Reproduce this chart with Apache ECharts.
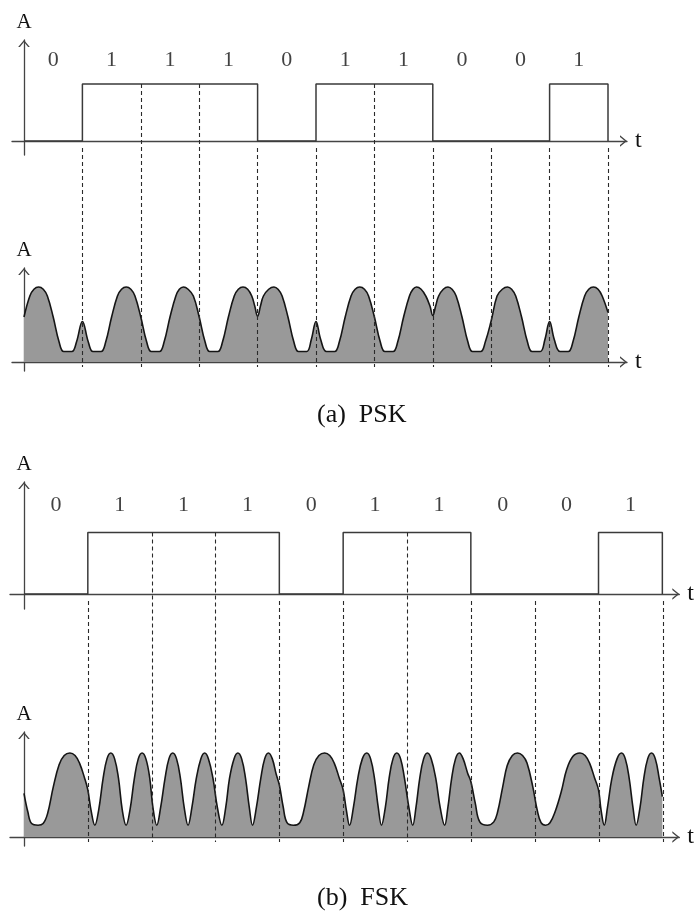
<!DOCTYPE html>
<html><head><meta charset="utf-8">
<script src="https://cdn.jsdelivr.net/npm/echarts@6/dist/echarts.min.js"></script>
<style>html,body{margin:0;padding:0;background:#fff}#c{width:695px;height:911px}</style>
</head><body><div id="c"></div>
<script>
// ---- data ----
const bits = [0,1,1,1,0,1,1,0,0,1];
const bitLabels = ['0','1','1','1','0','1','1','0','0','1'];
const captions = ['(a)  PSK', '(b)  FSK'];
const ampName = 'A';
const timeName = 't';
// PSK envelope readings [t in bit periods, amplitude]
const pskWave = [
[0,0.60],[0.1,0.88],[0.17,0.97],[0.25,1.0],[0.33,0.97],[0.4,0.88],[0.5,0.6],[0.6,0.27],[0.68,0.14],[0.82,0.14],[0.9,0.27],
[1.0,0.54],[1.1,0.27],[1.18,0.14],[1.32,0.14],[1.4,0.27],[1.5,0.6],[1.6,0.88],[1.67,0.97],[1.75,1.0],[1.83,0.97],[1.9,0.88],
[2.0,0.6],[2.1,0.27],[2.18,0.14],[2.32,0.14],[2.4,0.27],[2.5,0.6],[2.6,0.88],[2.66,0.97],[2.73,1.0],[2.81,0.97],[2.9,0.88],
[3.0,0.6],[3.1,0.27],[3.18,0.14],[3.32,0.14],[3.4,0.27],[3.5,0.6],[3.6,0.88],[3.67,0.97],[3.75,1.0],[3.83,0.97],[3.9,0.88],[3.95,0.75],
[4.0,0.61],[4.05,0.75],[4.1,0.88],[4.19,0.97],[4.28,1.0],[4.35,0.97],[4.42,0.88],[4.52,0.6],[4.62,0.27],[4.7,0.14],[4.84,0.14],[4.92,0.3],
[5.0,0.54],[5.08,0.3],[5.18,0.14],[5.32,0.14],[5.4,0.27],[5.5,0.6],[5.6,0.88],[5.67,0.97],[5.75,1.0],[5.83,0.97],[5.9,0.88],
[6.0,0.6],[6.1,0.27],[6.18,0.14],[6.32,0.14],[6.4,0.27],[6.5,0.6],[6.6,0.88],[6.66,0.97],[6.72,1.0],[6.8,0.97],[6.88,0.88],[6.95,0.75],
[7.0,0.62],[7.05,0.75],[7.1,0.88],[7.18,0.97],[7.26,1.0],[7.33,0.97],[7.4,0.88],[7.5,0.6],[7.6,0.27],[7.68,0.14],[7.82,0.14],[7.9,0.27],
[8.0,0.55],[8.1,0.88],[8.19,0.97],[8.28,1.0],[8.35,0.97],[8.42,0.88],[8.52,0.6],[8.62,0.27],[8.7,0.14],[8.84,0.14],[8.92,0.3],
[9.0,0.54],[9.08,0.3],[9.18,0.14],[9.32,0.14],[9.4,0.27],[9.5,0.6],[9.6,0.88],[9.67,0.97],[9.75,1.0],[9.83,0.97],[9.9,0.88],
[10.0,0.66]
];
// FSK envelope readings [t in bit periods, amplitude]
const fskWave = [
[0,0.52],[0.06,0.3],[0.12,0.16],[0.22,0.14],[0.3,0.16],[0.37,0.28],[0.46,0.6],[0.55,0.86],[0.63,0.97],[0.72,1.0],[0.8,0.97],[0.87,0.88],[0.95,0.7],
[1.0,0.56],[1.05,0.32],[1.11,0.14],[1.17,0.32],[1.24,0.7],[1.3,0.93],[1.36,1.0],[1.42,0.93],[1.48,0.7],[1.54,0.32],[1.6,0.14],[1.66,0.32],[1.73,0.7],[1.79,0.93],[1.85,1.0],[1.91,0.93],[1.97,0.7],
[2.02,0.35],[2.08,0.14],[2.14,0.35],[2.21,0.7],[2.27,0.93],[2.33,1.0],[2.39,0.93],[2.45,0.7],[2.51,0.35],[2.57,0.14],[2.63,0.35],[2.7,0.7],[2.77,0.93],[2.83,1.0],[2.89,0.93],[2.96,0.7],
[3.03,0.35],[3.1,0.14],[3.16,0.35],[3.22,0.7],[3.29,0.93],[3.35,1.0],[3.41,0.93],[3.47,0.7],[3.53,0.35],[3.58,0.14],[3.64,0.35],[3.71,0.7],[3.77,0.93],[3.83,1.0],[3.89,0.93],[3.95,0.75],
[4.0,0.62],[4.06,0.36],[4.12,0.17],[4.22,0.14],[4.32,0.17],[4.38,0.3],[4.46,0.6],[4.54,0.86],[4.62,0.97],[4.71,1.0],[4.79,0.97],[4.86,0.88],[4.94,0.7],
[5.0,0.56],[5.05,0.32],[5.1,0.14],[5.16,0.35],[5.23,0.7],[5.3,0.93],[5.37,1.0],[5.43,0.93],[5.49,0.7],[5.55,0.35],[5.6,0.14],[5.66,0.35],[5.72,0.7],[5.78,0.93],[5.84,1.0],[5.9,0.93],[5.96,0.7],
[6.03,0.35],[6.09,0.14],[6.14,0.35],[6.2,0.7],[6.26,0.93],[6.32,1.0],[6.38,0.93],[6.45,0.7],[6.52,0.35],[6.59,0.14],[6.64,0.35],[6.7,0.7],[6.76,0.93],[6.82,1.0],[6.88,0.93],[6.95,0.76],
[7.0,0.66],[7.07,0.4],[7.14,0.18],[7.26,0.14],[7.36,0.18],[7.42,0.3],[7.5,0.6],[7.57,0.85],[7.65,0.97],[7.73,1.0],[7.81,0.97],[7.88,0.88],[7.97,0.6],
[8.04,0.32],[8.1,0.17],[8.17,0.14],[8.24,0.17],[8.32,0.3],[8.42,0.55],[8.5,0.8],[8.6,0.96],[8.71,1.0],[8.79,0.97],[8.86,0.88],[8.94,0.7],
[9.0,0.56],[9.04,0.32],[9.09,0.14],[9.14,0.35],[9.21,0.7],[9.29,0.93],[9.36,1.0],[9.42,0.93],[9.48,0.7],[9.54,0.35],[9.59,0.14],[9.65,0.35],[9.71,0.7],[9.77,0.93],[9.83,1.0],[9.89,0.93],[9.95,0.7],
[10.0,0.48]
];
const waves = [pskWave, fskWave];

// ---- layout (pixels) ----
const panels = [
  {x0:24, unit:58.4, xMinPx:12, xMaxPx:627,
   top:{axisY:141, highY:84, topY:40, bottomY:155}, labelY:60.5,
   low:{axisY:362, peakY:287, topY:268, bottomY:371},
   dashBelowY:148, dashEndY:367, capTop:397},
  {x0:24, unit:63.9, xMinPx:10, xMaxPx:680,
   top:{axisY:594, highY:532.5, topY:482, bottomY:609}, labelY:505.5,
   low:{axisY:837, peakY:753, topY:732, bottomY:846},
   dashBelowY:601, dashEndY:842, capTop:880}
];
const serif = '"Liberation Serif","DejaVu Serif",serif';
const ink = '#444';
const chev = 'path://M0,60 L50,0 L100,60 L85,60 L50,18 L15,60 Z';

const grids = [], xAxes = [], yAxes = [], series = [], titles = [];
function axisLine(){
  return {show:true, onZero:true, symbol:['none', chev], symbolSize:[12,7], symbolOffset:[0,-3.5],
          lineStyle:{color:ink, width:1.3}};
}
panels.forEach((P, pi) => {
  const xmin = (P.xMinPx - P.x0)/P.unit, xmax = (P.xMaxPx - P.x0)/P.unit;
  const base = grids.length;
  [P.top, P.low].forEach((G, gi) => {
    const scale = G.axisY - (gi === 0 ? G.highY : G.peakY);
    grids.push({left:P.xMinPx, top:G.topY, width:P.xMaxPx-P.xMinPx, height:G.bottomY-G.topY, containLabel:false});
    xAxes.push({type:'value', gridIndex:base+gi, min:xmin, max:xmax, axisLine:axisLine(),
      axisTick:{show:false}, axisLabel:{show:false}, splitLine:{show:false},
      name:timeName, nameLocation:'end', nameGap:8,
      nameTextStyle:{fontFamily:serif, fontSize:24, color:'#111', verticalAlign:'middle', align:'left'}});
    yAxes.push({type:'value', gridIndex:base+gi, min:-(G.bottomY-G.axisY)/scale, max:(G.axisY-G.topY)/scale,
      axisLine:axisLine(), axisTick:{show:false}, axisLabel:{show:false}, splitLine:{show:false},
      name:ampName, nameLocation:'end', nameGap:7,
      nameTextStyle:{fontFamily:serif, fontSize:21, color:'#111'}});
  });
  // overlay grid for boundary dashes
  grids.push({left:P.xMinPx, top:P.top.highY, width:P.xMaxPx-P.xMinPx, height:P.dashEndY-P.top.highY});
  xAxes.push({type:'value', gridIndex:base+2, min:xmin, max:xmax, show:false});
  yAxes.push({type:'value', gridIndex:base+2, min:0, max:1, show:false});

  const topScale = P.top.axisY - P.top.highY;
  // square wave
  const sq = bits.map((b,i)=>[i,b]);
  sq.push([bits.length, bits[bits.length-1]]);
  sq.push([bits.length, 0]);
  series.push({type:'line', xAxisIndex:base, yAxisIndex:base, data:sq, step:'end', symbol:'none',
    lineStyle:{color:'#3a3a3a', width:1.5}, z:3, silent:true});
  // bit labels
  const lv = (P.top.axisY - P.labelY)/topScale;
  series.push({type:'scatter', xAxisIndex:base, yAxisIndex:base, symbolSize:1,
    itemStyle:{color:'rgba(0,0,0,0)'}, silent:true,
    data:bits.map((b,i)=>[i+0.5, lv]),
    label:{show:true, position:'inside', formatter:p=>bitLabels[p.dataIndex],
      fontFamily:serif, fontSize:22, color:'#111'}});
  // modulated waveform
  series.push({type:'line', xAxisIndex:base+1, yAxisIndex:base+1, data:waves[pi], smooth:0.4, symbol:'none',
    lineStyle:{color:'#151515', width:1.6}, areaStyle:{color:'#999999', opacity:1, origin:'auto'}, z:2, silent:true});
  // dashed boundaries
  const span = P.dashEndY - P.top.highY;
  const below = (P.dashEndY - P.dashBelowY)/span;
  const dashes = [];
  for (let k=1; k<=bits.length; k++){
    const both = bits[k-1]===1 && bits[k]===1;
    dashes.push({coords:[[k, both ? 1 : below],[k, 0]]});
  }
  series.push({type:'lines', coordinateSystem:'cartesian2d', xAxisIndex:base+2, yAxisIndex:base+2,
    data:dashes, lineStyle:{type:[4,3], color:'#2a2a2a', width:1.1, opacity:1}, z:10, silent:true, animation:false});
  titles.push({text:captions[pi], left:312, top:P.capTop,
    textStyle:{fontFamily:serif, fontSize:26, fontWeight:'normal', color:'#111'}});
});

const chart = echarts.init(document.getElementById('c'), null, {renderer:'canvas'});
chart.setOption({animation:false, backgroundColor:'#fff', title:titles, grid:grids, xAxis:xAxes, yAxis:yAxes, series:series});
</script></body></html>
